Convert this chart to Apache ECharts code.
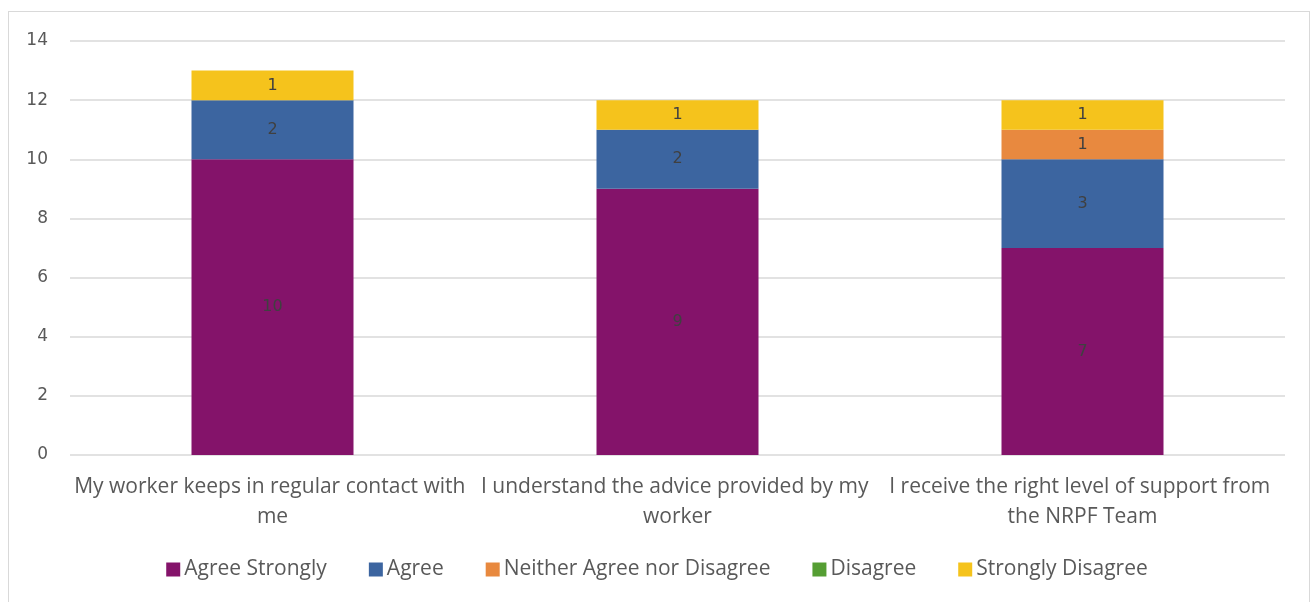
<!DOCTYPE html>
<html>
<head>
<meta charset="utf-8">
<script src="https://cdn.jsdelivr.net/npm/echarts@6/dist/echarts.min.js"></script>
<style>
  html, body { margin: 0; padding: 0; background: #fff; }
  #frame { position: absolute; left: 8px; top: 11px; width: 1302px; height: 600px; border: 1px solid #D9D9D9; box-sizing: border-box; }
  #chart { position: absolute; left: 0; top: 0; width: 1314px; height: 602px; }
</style>
</head>
<body>
<div id="frame"></div>
<div id="chart"></div>
<script>
// Survey statements (x axis)
const categories = [
  'My worker keeps in regular contact with me',
  'I understand the advice provided by my worker',
  'I receive the right level of support from the NRPF Team'
];
// Response counts per statement
const agreeStrongly = [10, 9, 7];
const agree = [2, 2, 3];
const neither = [0, 0, 1];
const disagree = [0, 0, 0];
const stronglyDisagree = [1, 1, 1];
// Y axis ticks
const yTicks = [0, 2, 4, 6, 8, 10, 12, 14];

const seriesDefs = [
  { name: 'Agree Strongly', data: agreeStrongly, color: '#84136A' },
  { name: 'Agree', data: agree, color: '#3C65A0' },
  { name: 'Neither Agree nor Disagree', data: neither, color: '#E8893F' },
  { name: 'Disagree', data: disagree, color: '#559E33' },
  { name: 'Strongly Disagree', data: stronglyDisagree, color: '#F5C31C' }
];

const chart = echarts.init(document.getElementById('chart'));
chart.setOption({
  animation: false,
  grid: { left: 70, right: 29, top: 41, bottom: 147 },
  xAxis: {
    type: 'category',
    data: categories,
    axisLine: { show: false },
    axisTick: { show: false },
    axisLabel: {
      color: '#595959',
      fontFamily: 'Open Sans',
      fontSize: 21,
      lineHeight: 30,
      margin: 17,
      width: 400,
      overflow: 'break',
      interval: 0
    }
  },
  yAxis: {
    type: 'value',
    min: yTicks[0],
    max: yTicks[yTicks.length - 1],
    interval: 2,
    axisLine: { show: false },
    axisTick: { show: false },
    axisLabel: { color: '#595959', fontFamily: 'DejaVu Sans', fontSize: 17, margin: 22 },
    splitLine: { lineStyle: { color: '#D9D9D9', width: 1.5 } }
  },
  legend: {
    bottom: 17,
    left: 'center',
    icon: 'rect',
    itemWidth: 14,
    itemHeight: 14,
    itemGap: 42,
    textStyle: { color: '#595959', fontFamily: 'Open Sans', fontSize: 21, padding: [0, 0, 0, -1] },
    data: seriesDefs.map(s => s.name)
  },
  series: seriesDefs.map(s => ({
    name: s.name,
    type: 'bar',
    stack: 'total',
    barWidth: '40%',
    data: s.data,
    itemStyle: { color: s.color },
    label: {
      show: true,
      position: 'inside',
      color: '#404040',
      fontFamily: 'DejaVu Sans',
      fontSize: 16,
      formatter: p => (p.value ? String(p.value) : '')
    }
  }))
});
</script>
</body>
</html>
